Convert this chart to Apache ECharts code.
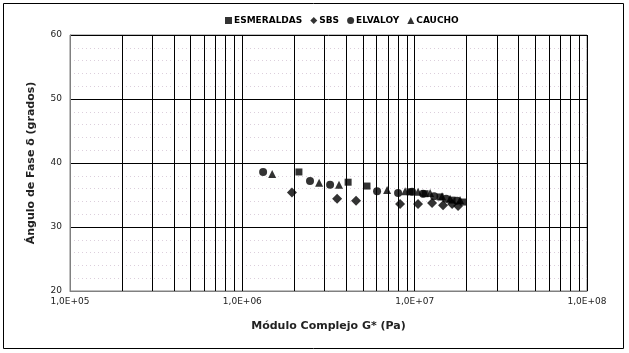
<!DOCTYPE html>
<html>
<head>
<meta charset="utf-8">
<script src="https://cdn.jsdelivr.net/npm/echarts@6/dist/echarts.min.js"></script>
<style>
  html, body { margin: 0; padding: 0; background: #fff; }
  #chart { width: 629px; height: 353px; }
</style>
</head>
<body>
<div id="chart"></div>
<script>
// Módulo complejo G* (Pa) y ángulo de fase (grados) por ligante
var esmeraldasG = [2.13e6, 4.11e6, 5.29e6, 9.40e6, 1.149e7, 1.404e7, 1.649e7, 1.909e7]
var esmeraldasD = [38.6, 37.0, 36.4, 35.5, 35.2, 34.7, 34.2, 33.9]

var sbsG = [1.94e6, 3.55e6, 4.57e6, 8.23e6, 1.046e7, 1.262e7, 1.461e7, 1.649e7, 1.786e7]
var sbsD = [35.4, 34.4, 34.1, 33.6, 33.6, 33.75, 33.4, 33.6, 33.3]

var elvaloyG = [1.32e6, 2.47e6, 3.23e6, 6.05e6, 8.01e6, 9.66e6, 1.119e7, 1.296e7, 1.522e7, 1.762e7]
var elvaloyD = [38.6, 37.2, 36.6, 35.6, 35.3, 35.5, 35.2, 34.8, 34.4, 34.1]

var cauchoG = [1.49e6, 2.79e6, 3.64e6, 6.92e6, 8.80e6, 1.046e7, 1.229e7, 1.442e7, 1.605e7, 1.834e7]
var cauchoD = [38.3, 36.9, 36.6, 35.8, 35.6, 35.5, 35.3, 34.8, 34.4, 34.2]

// lineas de division secundarias del eje log (2..9 x 10^n)
var minorX = []
for (var n = 5; n < 8; n++) {
  for (var k = 2; k <= 9; k++) {
    minorX.push(k * Math.pow(10, n))
  }
}

function pares (g, d) {
  return g.map(function (v, i) { return [v, d[i]] })
}

var fuente = 'DejaVu Sans, Verdana, sans-serif'
var myChart = echarts.init(document.getElementById('chart'))
myChart.setOption({
  animation: false,
  backgroundColor: '#fff',
  graphic: [
    {
      type: 'rect',
      shape: { x: 3.5, y: 3.5, width: 620, height: 345 },
      style: { fill: 'none', stroke: '#000', lineWidth: 1 },
      silent: true
    }
  ],
  legend: {
    top: 11,
    left: 220,
    itemWidth: 7,
    itemHeight: 7,
    itemGap: 8,
    textStyle: { fontFamily: fuente, fontSize: 9, fontWeight: 'bold', color: '#000', padding: [0, 0, 0, -3] },
    data: ['ESMERALDAS', 'SBS', 'ELVALOY', 'CAUCHO']
  },
  grid: {
    left: 70,
    right: 42,
    top: 35,
    bottom: 62,
    show: true,
    borderColor: '#808080',
    borderWidth: 1
  },
  xAxis: {
    type: 'log',
    logBase: 10,
    min: 1e5,
    max: 1e8,
    name: 'Módulo Complejo G* (Pa)',
    nameLocation: 'middle',
    nameGap: 30,
    nameTextStyle: { fontFamily: fuente, fontSize: 11, fontWeight: 'bold', color: '#222' },
    axisLine: { show: true, lineStyle: { color: '#808080' } },
    axisTick: { show: false },
    axisLabel: {
      margin: 6,
      fontFamily: fuente,
      fontSize: 9,
      color: '#222',
      formatter: function (v) {
        var e = Math.round(Math.log10(v))
        return '1,0E+' + (e < 10 ? '0' + e : e)
      }
    },
    splitLine: { show: true, lineStyle: { color: '#000', width: 1 } }
  },
  yAxis: {
    type: 'value',
    min: 20,
    max: 60,
    interval: 10,
    name: 'Ángulo de Fase δ (grados)',
    nameLocation: 'middle',
    nameGap: 33,
    nameTextStyle: { fontFamily: fuente, fontSize: 11, fontWeight: 'bold', color: '#222' },
    axisLine: { show: true, lineStyle: { color: '#808080' } },
    axisTick: { show: false },
    axisLabel: { margin: 8, fontFamily: fuente, fontSize: 9, color: '#222' },
    splitLine: { show: true, lineStyle: { color: '#000', width: 1 } },
    minorTick: { show: false, splitNumber: 5 },
    minorSplitLine: { show: true, lineStyle: { color: '#dccfdc', type: [1, 3], width: 1 } }
  },
  series: [
    {
      name: 'ESMERALDAS',
      type: 'scatter',
      symbol: 'rect',
      symbolSize: 7,
      itemStyle: { color: '#000' },
      data: pares(esmeraldasG, esmeraldasD),
      z: 3,
      markLine: {
        silent: true,
        symbol: ['none', 'none'],
        label: { show: false },
        lineStyle: { color: '#000', type: 'solid', width: 1 },
        emphasis: { disabled: true },
        data: minorX.map(function (v) { return { xAxis: v } })
      }
    },
    {
      name: 'SBS',
      type: 'scatter',
      symbol: 'diamond',
      symbolSize: 10,
      itemStyle: { color: '#000' },
      data: pares(sbsG, sbsD),
      z: 3
    },
    {
      name: 'ELVALOY',
      type: 'scatter',
      symbol: 'circle',
      symbolSize: 8,
      itemStyle: { color: '#000' },
      data: pares(elvaloyG, elvaloyD),
      z: 3
    },
    {
      name: 'CAUCHO',
      type: 'scatter',
      symbol: 'triangle',
      symbolSize: 8,
      itemStyle: { color: '#000' },
      data: pares(cauchoG, cauchoD),
      z: 3
    }
  ]
})
</script>
</body>
</html>
